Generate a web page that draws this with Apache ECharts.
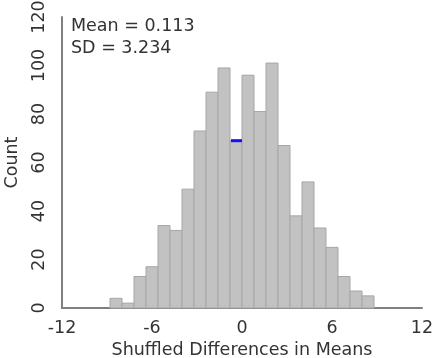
<!DOCTYPE html>
<html>
<head>
<meta charset="utf-8">
<script src="https://cdn.jsdelivr.net/npm/echarts@6/dist/echarts.min.js"></script>
<style>html,body{margin:0;padding:0;background:#fff}#c{width:438px;height:358px}</style>
</head>
<body>
<div id="c"></div>
<script>
// Histogram bin edges (left edge) with bin width 0.8
const binStart = -8.8;
const binWidth = 0.8;
const counts = [4, 2, 13, 17, 34, 32, 49, 73, 89, 99, 69, 96, 81, 101, 67, 38, 52, 33, 25, 13, 7, 5];
const xTicks = [-12, -6, 0, 6, 12];
const yTicks = [0, 20, 40, 60, 80, 100, 120];
const statsText = ['Mean = 0.113', 'SD = 3.234'];
const highlightBin = 10; // bin index with the blue marker
const xTitle = 'Shuffled Differences in Means';
const yTitle = 'Count';

const binData = counts.map((c, i) => [binStart + i * binWidth, binStart + (i + 1) * binWidth, c]);
const markData = [[binData[highlightBin][0], binData[highlightBin][1], counts[highlightBin]]];

const FONT = 'DejaVu Sans';
const chart = echarts.init(document.getElementById('c'), null, {renderer: 'canvas'});
chart.setOption({
  animation: false,
  backgroundColor: '#fff',
  grid: {left: 62, right: 16, top: 17, bottom: 50, containLabel: false, outerBoundsMode: 'none'},
  xAxis: {
    type: 'value', min: xTicks[0], max: xTicks[xTicks.length - 1], interval: 6,
    name: xTitle, nameLocation: 'middle', nameGap: 32,
    nameTextStyle: {fontFamily: FONT, fontSize: 17.5, color: '#333'},
    axisLine: {show: true, onZero: false, lineStyle: {color: '#808080', width: 2}},
    axisTick: {show: false},
    splitLine: {show: false},
    axisLabel: {fontFamily: FONT, fontSize: 17.5, color: '#333', margin: 11}
  },
  yAxis: {
    type: 'value', min: yTicks[0], max: yTicks[yTicks.length - 1], interval: 20,
    name: yTitle, nameLocation: 'middle', nameGap: 41,
    nameTextStyle: {fontFamily: FONT, fontSize: 17.5, color: '#333'},
    axisLine: {show: true, onZero: false, lineStyle: {color: '#808080', width: 2}},
    axisTick: {show: false},
    splitLine: {show: false},
    axisLabel: {fontFamily: FONT, fontSize: 17.5, color: '#333', rotate: 90, margin: 14, align: 'center', verticalAlign: 'bottom'}
  },
  graphic: [{
    type: 'text', left: 71, top: 15,
    style: {text: statsText.join('\n'), font: '17.5px "DejaVu Sans"', fill: '#333', lineHeight: 22}
  }],
  series: [{
    type: 'custom',
    data: binData,
    renderItem: function (params, api) {
      const p0 = api.coord([api.value(0), api.value(2)]);
      const p1 = api.coord([api.value(1), 0]);
      return {
        type: 'rect',
        shape: {x: p0[0], y: p0[1], width: p1[0] - p0[0], height: p1[1] - p0[1]},
        style: {fill: '#c2c2c2', stroke: '#a6a6a6', lineWidth: 1}
      };
    }
  }, {
    type: 'custom',
    data: markData,
    z: 5,
    renderItem: function (params, api) {
      const p0 = api.coord([api.value(0), api.value(2)]);
      const p1 = api.coord([api.value(1), api.value(2)]);
      return {
        type: 'line',
        shape: {x1: p0[0] + 1, y1: p0[1], x2: p1[0], y2: p1[1]},
        style: {stroke: '#1010ff', lineWidth: 3}
      };
    }
  }]
});
</script>
</body>
</html>
